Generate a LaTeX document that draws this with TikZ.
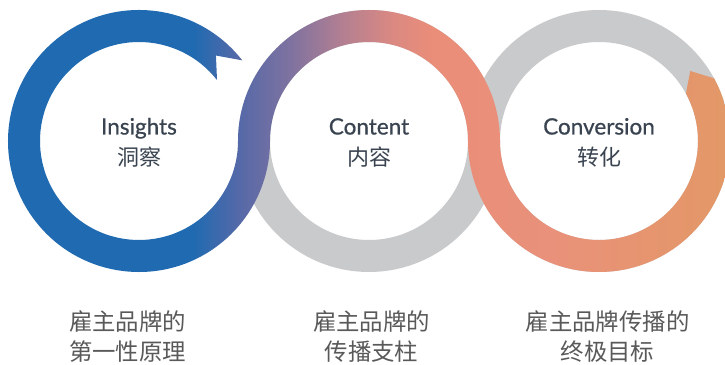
\documentclass[tikz,border=0pt]{standalone}
\usepackage{fontspec}
\setmainfont{Lato}
\newfontfamily\latinmed{Lato}[FakeBold=0.7]
\newfontfamily\cjk{Noto Sans CJK SC}
\usetikzlibrary{calc}
\definecolor{ringgray}{HTML}{C9CACC}
\definecolor{labeltext}{HTML}{3A4450}
\definecolor{subtext}{HTML}{595959}
\definecolor{rbA}{HTML}{1F6AB1}
\definecolor{rbB}{HTML}{5669A8}
\definecolor{rbC}{HTML}{7E72A0}
\definecolor{rbD}{HTML}{B27F92}
\definecolor{rbE}{HTML}{DA8982}
\definecolor{rbF}{HTML}{EA8D79}
\definecolor{rbG}{HTML}{E9917A}
\definecolor{rbH}{HTML}{E39866}
\pgfdeclarehorizontalshading{ribbon}{100bp}{color(0bp)=(rbA); color(38.6bp)=(rbA); color(41.8bp)=(rbB); color(45.2bp)=(rbC); color(48.7bp)=(rbD); color(52.1bp)=(rbE); color(54.9bp)=(rbF); color(63bp)=(rbG); color(75bp)=(rbH); color(100bp)=(rbH)}
\tikzset{
  toplbl/.style={anchor=base, inner sep=0pt, text=labeltext, font=\latinmed\fontsize{22.5}{26}\selectfont},
  cjklbl/.style={anchor=base, inner sep=0pt, text=labeltext, font=\cjk\fontsize{22}{26}\selectfont},
  botlbl/.style={anchor=base, inner sep=0pt, text=subtext, font=\cjk\fontsize{23.4}{28}\selectfont},
  grayring/.style={draw=ringgray, line width=32pt},
}
\begin{document}
\begin{tikzpicture}[x=1pt,y=1pt]
\useasboundingbox (0,0) rectangle (725,364);
\fill[white] (0,0) rectangle (725,364);
\clip (0,0) rectangle (725,364);
\coordinate (C1) at (139,223);
\coordinate (C2) at (369,223);
\coordinate (C3) at (599,223);
% gray underlay rings
\draw[grayring] (C2) circle[radius=115];
\draw[grayring] (C3) circle[radius=115];
% coloured ribbon
\shade[shading=ribbon]
  ($(C1)+(38:131)$) arc[start angle=38, end angle=360, radius=131]
  arc[start angle=180, end angle=0, radius=99]
  arc[start angle=180, end angle=388.6, radius=131]
  -- ($(C3)+(37.5:115)$)
  -- ($(C3)+(28.6:99)$)
  arc[start angle=28.6, end angle=-180, radius=99]
  arc[start angle=0, end angle=180, radius=131]
  arc[start angle=360, end angle=38, radius=99]
  -- ($(C1)+(48:115)$) -- cycle;
% labels
\node[toplbl] (ins) at (139,229.5) {Insights};
\node[cjklbl] (insc) at (139,198) {洞察};
\node[toplbl] (con) at (369,229.5) {Content};
\node[cjklbl] (conc) at (369,198) {内容};
\node[toplbl] (cvs) at (599,229.5) {Conversion};
\node[cjklbl] (cvsc) at (599,198) {转化};
\node[botlbl] (la) at (127.5,33.5) {雇主品牌的};
\node[botlbl] (lb) at (127.5,3.6) {第一性原理};
\node[botlbl] (ma) at (371.5,33.5) {雇主品牌的};
\node[botlbl] (mb) at (371.5,3.6) {传播支柱};
\node[botlbl] (ra) at (607.5,33.5) {雇主品牌传播的};
\node[botlbl] (rb) at (607.5,3.6) {终极目标};
\end{tikzpicture}
\end{document}
